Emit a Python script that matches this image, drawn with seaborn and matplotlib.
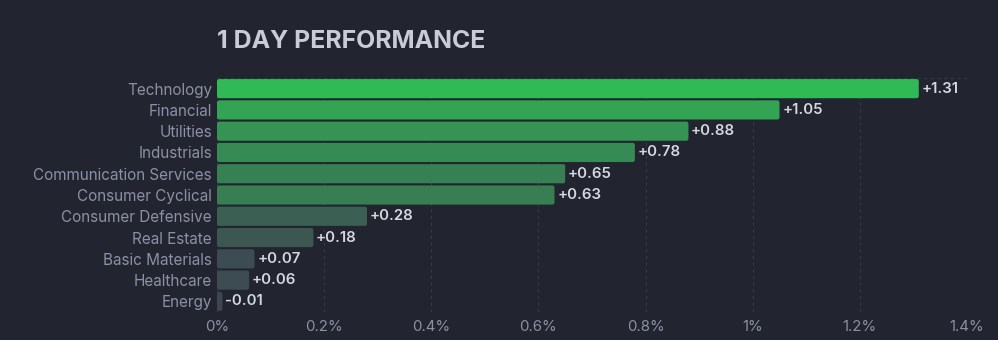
import matplotlib
matplotlib.use("Agg")
import matplotlib.pyplot as plt
import seaborn as sns
import pandas as pd
import numpy as np
from matplotlib.colors import LinearSegmentedColormap
from matplotlib.patches import FancyBboxPatch

sectors = ["Technology", "Financial", "Utilities", "Industrials", "Communication Services",
           "Consumer Cyclical", "Consumer Defensive", "Real Estate", "Basic Materials",
           "Healthcare", "Energy"]
changes = [1.31, 1.05, 0.88, 0.78, 0.65, 0.63, 0.28, 0.18, 0.07, 0.06, -0.01]
xticks = [0, 0.2, 0.4, 0.6, 0.8, 1.0, 1.2, 1.4]
xtick_labels = ["0%", "0.2%", "0.4%", "0.6%", "0.8%", "1%", "1.2%", "1.4%"]
title = "1 DAY PERFORMANCE"

BG = "#22252f"
GRID = "#363a47"
TICK = "#8b90a6"
VAL = "#d6d8df"
TITLE_C = "#c9cbd6"

sns.set_theme(style="dark")
plt.rcParams["font.family"] = ["Inter", "DejaVu Sans"]

df = pd.DataFrame({"sector": sectors, "change": changes})
df["length"] = df["change"].abs()

cmap = LinearSegmentedColormap.from_list("perf", ["#3e4652", "#30ba55"])
colors = [cmap(max(v, 0) / max(changes)) for v in changes]

W, H = 998, 340
ax_left, ax_right, ax_top, ax_bot = 217, 967, 78, 312
fig = plt.figure(figsize=(W / 100, H / 100), dpi=100, facecolor=BG)
ax = fig.add_axes([ax_left / W, 1 - ax_bot / H, (ax_right - ax_left) / W, (ax_bot - ax_top) / H])
ax.set_facecolor(BG)

sns.barplot(data=df, y="sector", x="length", hue="sector", palette=colors,
            legend=False, orient="h", width=0.9, ax=ax, zorder=3,
            edgecolor="none", saturation=1)

ax.set_xlim(0, 1.4)
ax.set_ylim(len(sectors) - 0.5, -0.5)

# rounded bar corners
xpp = 1.4 / (ax_right - ax_left)
ypp = len(sectors) / (ax_bot - ax_top)
for p in list(ax.patches):
    x0, y0, w, h = p.get_x(), p.get_y(), p.get_width(), p.get_height()
    fc = p.get_facecolor()
    p.remove()
    r = min(2.2 * xpp, w / 2)
    fb = FancyBboxPatch((x0, y0), w, h, boxstyle=f"round,pad=0,rounding_size={r}",
                        mutation_aspect=ypp / xpp, facecolor=fc, edgecolor="none", zorder=3)
    ax.add_patch(fb)

ax.set_xticks(xticks)
ax.set_xticklabels(xtick_labels)
ax.set_xlabel("")
ax.set_ylabel("")
ax.tick_params(axis="x", colors=TICK, labelsize=10.8, length=0, pad=5.5)
ax.tick_params(axis="y", colors=TICK, labelsize=11, length=0, pad=3.6)
for lab in ax.get_xticklabels() + ax.get_yticklabels():
    lab.set_color(TICK)

ax.grid(False)
for xv in xticks:
    ax.axvline(xv, color=GRID, lw=0.8, ls=(0, (3, 3)), zorder=1)
for sp in ax.spines.values():
    sp.set_visible(False)
ax.axhline(-0.5, color=GRID, lw=0.8, ls=(0, (3, 3)), zorder=1)
ax.axhline(len(sectors) - 0.5, color=GRID, lw=0.8, ls=(0, (3, 3)), zorder=1)

for i, (v, l) in enumerate(zip(changes, df["length"])):
    ax.text(l + 0.005, i, f"{v:+.2f}", va="center", ha="left", color=VAL,
            fontsize=10.8, fontweight="semibold", zorder=4)

fig.text(ax_left / W, 1 - 41 / H, title, color=TITLE_C, fontsize=17.9,
         fontweight="bold", va="center", ha="left")

fig.savefig("out.png", dpi=100, facecolor=BG)
